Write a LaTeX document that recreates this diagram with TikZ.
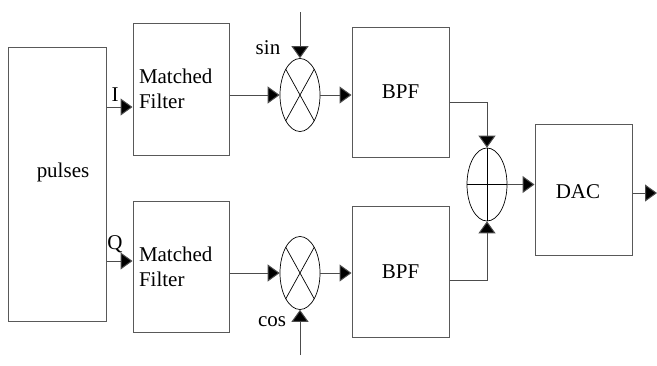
\documentclass[tikz,border=0pt]{standalone}
\usepackage{fontspec}
\setmainfont{Liberation Serif}
\usetikzlibrary{positioning,shapes,arrows.meta}

\begin{document}
\begin{tikzpicture}[x=1pt,y=-1pt,
    font=\fontsize{21}{25}\selectfont,
    block/.style={draw=black!65,line width=1pt,inner sep=0pt},
    mixer/.style={ellipse,draw,line width=0.7pt,minimum width=40pt,minimum height=73pt,inner sep=0pt},
    arr/.style={draw=black!70,line width=1pt,-{Triangle[length=12pt,width=17pt,fill=black]}}]
    \useasboundingbox (0,0) rectangle (657,365);

    % Blocks
    \node[block,minimum width=98pt,minimum height=274pt] (pulses) at (57,184) {};
    \node at (63,172) {pulses};
    \node[block,minimum width=96pt,minimum height=132pt,text width=84pt,align=left] (mf1) at (181,89) {Matched\\Filter};
    \node[block,minimum width=96pt,minimum height=131pt,text width=84pt,align=left] (mf2) at (181,266.5) {Matched\\Filter};
    \node[block,minimum width=97pt,minimum height=130pt] (bpf1) at (400.5,92) {BPF};
    \node[block,minimum width=97pt,minimum height=131pt] (bpf2) at (400.5,271.5) {BPF};
    \node[block,minimum width=97pt,minimum height=131pt] (dac) at (583.5,189.5) {};
    \node at (578,192) {DAC};

    % Mixers and adder
    \node[mixer] (mix1) at (300,95) {};
    \draw[line width=0.7pt] (mix1.north west) -- (mix1.south east) (mix1.north east) -- (mix1.south west);
    \node[mixer] (mix2) at (300,273) {};
    \draw[line width=0.7pt] (mix2.north west) -- (mix2.south east) (mix2.north east) -- (mix2.south west);
    \node[mixer] (add) at (487,184.5) {};
    \draw[line width=0.7pt] (add.north) -- (add.south) (add.west) -- (add.east);

    % Carriers
    \coordinate (sinin) at (300,12);
    \coordinate (cosin) at (300,355);
    \coordinate (out) at (657,193);
    \draw[arr] (sinin) -- (mix1.north);
    \draw[arr] (cosin) -- (mix2.south);
    \node at (268,48) {sin};
    \node at (272,322) {cos};

    % Signal path
    \draw[arr] (pulses.east |- 0,107) -- (mf1.west |- 0,107);
    \draw[arr] (pulses.east |- 0,261) -- (mf2.west |- 0,261);
    \node at (115,95) {I};
    \node at (115,244) {Q};
    \draw[arr] (mf1.east |- mix1.west) -- (mix1.west);
    \draw[arr] (mf2.east |- mix2.west) -- (mix2.west);
    \draw[arr] (mix1.east) -- (mix1.east -| bpf1.west);
    \draw[arr] (mix2.east) -- (mix2.east -| bpf2.west);
    \draw[arr] (bpf1.east |- 0,102) -| (add.north);
    \draw[arr] (bpf2.east |- 0,280) -| (add.south);
    \draw[arr] (add.east) -- (add.east -| dac.west);
    \draw[arr] (dac.east |- out) -- (out);
\end{tikzpicture}
\end{document}
